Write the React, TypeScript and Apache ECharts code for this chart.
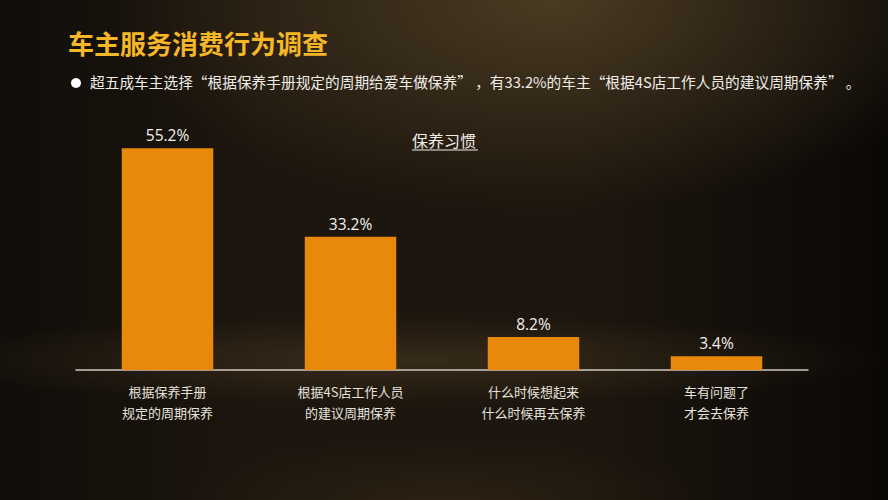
import React, { useEffect, useRef } from 'react';
import * as echarts from 'echarts';

const categories = ['根据保养手册\n规定的周期保养', '根据4S店工作人员\n的建议周期保养', '什么时候想起来\n什么时候再去保养', '车有问题了\n才会去保养'];
const shares = [55.2, 33.2, 8.2, 3.4];

const pageTitle = '车主服务消费行为调查';
const note = '超五成车主选择“根据保养手册规定的周期给爱车做保养” ，有33.2%的车主“根据4S店工作人员的建议周期保养” 。';
const chartTitle = '保养习惯';

const FONT = '"Noto Sans CJK SC", "Noto Sans", sans-serif';

const App: React.FC = () => {
  const chartRef = useRef<HTMLDivElement>(null);

  useEffect(() => {
    if (!chartRef.current) return;
    const chart = echarts.init(chartRef.current, undefined, { renderer: 'svg' });

    chart.setOption({
      animation: false,
      backgroundColor: 'transparent',
      textStyle: { fontFamily: FONT },
      grid: { left: 76, right: 80, top: 129, bottom: 130 },
      xAxis: {
        type: 'category',
        data: categories,
        axisLine: { lineStyle: { color: '#cfc8bd', width: 1.5 } },
        axisTick: { show: false },
        axisLabel: {
          color: '#e6e2dc',
          fontSize: 13,
          lineHeight: 21,
          margin: 11,
          interval: 0
        }
      },
      yAxis: {
        type: 'value',
        min: 0,
        max: 60,
        show: false
      },
      series: [
        {
          type: 'bar',
          data: shares,
          barWidth: '50%',
          itemStyle: { color: '#E8890C' },
          label: {
            show: true,
            position: 'top',
            distance: 5,
            color: '#f2f0ec',
            fontSize: 15.5,
            fontFamily: '"Open Sans", "Noto Sans", sans-serif',
            formatter: (p: any) => p.value.toFixed(1) + '%'
          }
        }
      ],
      graphic: [
        {
          type: 'text',
          left: 68,
          top: 29,
          style: {
            text: pageTitle,
            fill: '#F5B628',
            fontSize: 26,
            fontWeight: 'bold',
            fontFamily: FONT
          }
        },
        {
          type: 'circle',
          shape: { cx: 76, cy: 83, r: 5 },
          style: { fill: '#ffffff' }
        },
        {
          type: 'text',
          left: 90,
          top: 74,
          style: {
            text: note,
            fill: '#f0ede8',
            fontSize: 14.7,
            fontFamily: FONT
          }
        },
        {
          type: 'text',
          left: 412,
          top: 132,
          style: {
            text: chartTitle,
            fill: '#f0ede8',
            fontSize: 16,
            fontFamily: FONT
          }
        },
        {
          type: 'line',
          shape: { x1: 412, y1: 150, x2: 478, y2: 150 },
          style: { stroke: '#f0ede8', lineWidth: 1 }
        }
      ]
    });

    return () => {
      chart.dispose();
    };
  }, []);

  return (
    <div
      style={{
        position: 'fixed',
        left: 0,
        top: 0,
        width: 888,
        height: 500,
        background:
          'radial-gradient(ellipse 50% 42% at 62% 0%, rgba(88,70,40,0.75), rgba(88,70,40,0) 100%),' +
          'radial-gradient(ellipse 55% 9% at 45% 72%, rgba(80,62,36,0.5), rgba(80,62,36,0) 100%),' +
          'radial-gradient(ellipse 30% 12% at 50% 100%, rgba(60,45,25,0.45), rgba(60,45,25,0) 100%),' +
          'linear-gradient(90deg, #100d09 0%, #1d160e 30%, #1d160e 65%, #0a0806 100%)'
      }}
    >
      <div ref={chartRef} style={{ width: 888, height: 500 }} />
    </div>
  );
};

export default App;
